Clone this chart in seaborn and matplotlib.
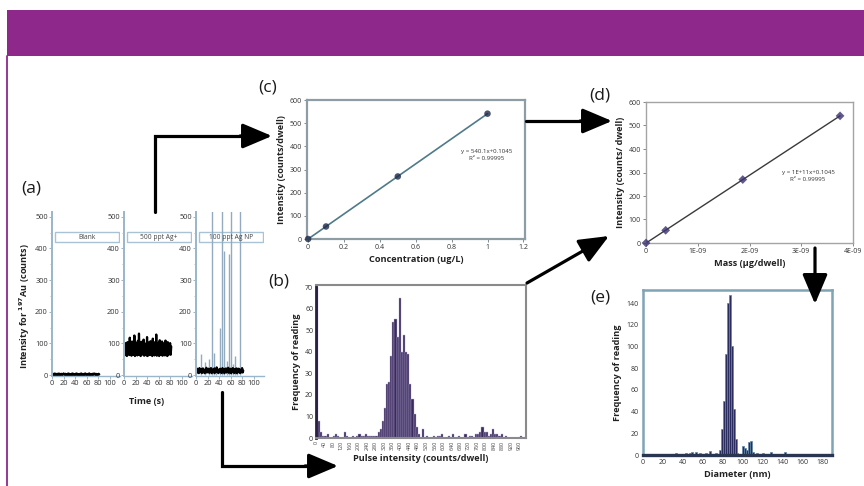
import numpy as np
import pandas as pd
import matplotlib
matplotlib.use("Agg")
import matplotlib.pyplot as plt
from matplotlib.patches import Rectangle
from matplotlib.lines import Line2D
from matplotlib.ticker import MultipleLocator
import seaborn as sns

# ---------------- data ----------------
# (a) raw time traces (counts)
trace_titles = ["Blank", "500 ppt Ag+", "100 ppt Ag NP"]
blank_counts = [3, 1, 4, 0, 2, 5, 1, 3, 0, 4, 2, 1, 5, 0, 3, 2, 4, 1, 0, 3, 5, 2, 1, 4, 0, 2, 3, 1, 5, 0,
                4, 2, 1, 3, 0, 5, 2, 4, 1, 0, 3, 2, 5, 1, 4, 0, 2, 3, 1, 4, 0, 5, 2, 1, 3, 0, 4, 2, 5, 1,
                3, 0, 2, 4, 1, 5, 0, 3, 2, 1, 4, 0, 3, 5, 2, 1, 4, 0, 2, 3, 1, 4, 2]
ag_ion_counts = [88, 62, 101, 66, 95, 60, 104, 70, 92, 63, 118, 65, 99, 61, 106, 68, 97, 64, 125, 60,
                 102, 67, 94, 62, 108, 66, 131, 63, 98, 60, 105, 69, 93, 64, 112, 61, 100, 66, 96, 62,
                 120, 60, 103, 68, 91, 63, 107, 65, 99, 60, 115, 67, 94, 62, 104, 64, 128, 61, 97, 66,
                 102, 60, 110, 68, 95, 63, 106, 61, 100, 65, 93, 62, 109, 66, 98, 60, 104, 63, 96, 67,
                 101, 64, 90]
ag_np_counts = [14, 7, 20, 9, 17, 6, 22, 10, 15, 8, 19, 7, 21, 11, 16, 6, 18, 9, 23, 8, 15, 10, 20, 7,
                17, 12, 22, 6, 14, 9, 19, 8, 21, 7, 16, 10, 24, 9, 15, 6, 18, 11, 20, 8, 17, 7, 22, 10,
                16, 6, 19, 9, 21, 8, 15, 11, 23, 7, 18, 9, 20, 6, 16, 10, 22, 8, 17, 7, 19, 9, 21, 6,
                15, 10, 20, 8, 18, 7, 16, 9, 22, 8, 14]
np_spike_time = [9, 15, 22, 28, 32, 35, 41, 45, 48, 53, 57, 60, 64, 67, 71, 76]
np_spike_height = [67, 40, 51, 520, 70, 30, 150, 520, 393, 45, 382, 520, 35, 60, 25, 520]
time_ticks = [0, 20, 40, 60, 80, 100]
count_ticks = [0, 100, 200, 300, 400, 500]

# (c) calibration vs concentration
conc_ugL = [0, 0.1, 0.5, 1.0]
conc_intensity = [0, 54, 270, 541]
conc_ticks = [0, 0.2, 0.4, 0.6, 0.8, 1.0, 1.2]
conc_ticklabels = ["0", "0.2", "0.4", "0.6", "0.8", "1", "1.2"]

# (d) calibration vs mass
mass_ug = [0, 3.8e-10, 1.87e-9, 3.75e-9]
mass_intensity = [0, 54, 270, 541]
mass_ticks = [0, 1e-9, 2e-9, 3e-9, 4e-9]
mass_ticklabels = ["0", "1E-09", "2E-09", "3E-09", "4E-09"]

# (b) pulse intensity histogram (bins of 10 counts/dwell)
pulse_bin_start = np.arange(0, 980, 10)
pulse_freq = [70, 8, 3, 1, 1, 2, 0, 0, 1, 2,
              1, 0, 0, 3, 1, 0, 0, 1, 0, 1,
              2, 1, 1, 2, 1, 1, 1, 1, 1, 3,
              4, 8, 14, 25, 26, 38, 54, 55, 47, 65,
              40, 48, 40, 39, 25, 18, 11, 5, 2, 0,
              4, 0, 1, 0, 0, 1, 0, 1, 1, 2,
              0, 0, 1, 0, 2, 0, 0, 1, 0, 0,
              2, 0, 1, 1, 0, 2, 2, 3, 5, 3,
              3, 1, 2, 4, 2, 2, 1, 2, 0, 1,
              0, 0, 0, 0, 0, 0, 1, 0]
pulse_ticks = list(range(0, 961, 40))

# (e) particle diameter histogram (bins of 2 nm)
diameter_bin = [32, 34, 40, 42, 46, 48, 52, 54, 56, 62, 66, 72, 74, 76, 78, 80, 82, 84, 86, 88, 90,
                92, 94, 100, 102, 104, 106, 108, 110, 114, 120, 122, 128, 134, 142, 152, 156]
diameter_freq = [2, 1, 1, 2, 2, 3, 3, 1, 2, 2, 4, 2, 1, 5, 24, 50, 93, 140, 147, 100, 42,
                 15, 2, 8, 6, 5, 12, 13, 3, 2, 2, 1, 3, 1, 3, 1, 1]

# ---------------- style ----------------
sns.set_theme(style="white")
plt.rcParams['font.family'] = ['Open Sans', 'DejaVu Sans']
plt.rcParams['mathtext.fontset'] = 'dejavusans'

W, H = 864, 486
fig = plt.figure(figsize=(W / 100, H / 100), dpi=100)
fig.patch.set_facecolor('white')


def add_px_axes(x0, y0, x1, y1, **kw):
    ax = fig.add_axes([x0 / W, 1 - y1 / H, (x1 - x0) / W, (y1 - y0) / H], **kw)
    ax.set_facecolor('none')
    return ax


def style_spines(ax, color, lw, hide=()):
    for k, s in ax.spines.items():
        if k in hide:
            s.set_visible(False)
        else:
            s.set_color(color)
            s.set_linewidth(lw)


LBL = dict(fontsize=6.6, fontweight='bold', color='#222222')
TICK = 5

# banner
fig.add_artist(Rectangle((7 / W, 1 - 56 / H), (W - 7) / W, 46 / H, transform=fig.transFigure,
                         facecolor='#8E298B', edgecolor='none'))
fig.add_artist(Line2D([7 / W, 7 / W], [0, 1 - 56 / H], transform=fig.transFigure,
                      color='#8E298B', lw=1.3))

# ---------------- (a) ----------------
a_left = [52, 124, 196]
a_series = [blank_counts, ag_ion_counts, ag_np_counts]
spine_a = '#9ab6ca'
for i, (x0, title, vals) in enumerate(zip(a_left, trace_titles, a_series)):
    ax = add_px_axes(x0, 212, x0 + 68, 376)
    t = np.linspace(0, 82, len(vals))
    if i == 2:
        ax.vlines(np_spike_time, 0, np_spike_height, color='#93abc0', lw=1.0, zorder=1)
    sns.lineplot(x=t, y=vals, ax=ax, color='black', lw=1.6, estimator=None, zorder=2)
    ax.set_xlim(0, 118)
    ax.set_ylim(-3, 515)
    ax.set_xticks(time_ticks)
    ax.set_yticks(count_ticks)
    ax.yaxis.set_minor_locator(MultipleLocator(50))
    ax.tick_params(axis='both', which='major', labelsize=5.3, length=2, width=0.7,
                   color=spine_a, pad=1, labelcolor='#333333')
    ax.tick_params(axis='y', which='minor', length=1.5, width=0.6, color=spine_a, left=True)
    ax.tick_params(axis='x', bottom=True)
    ax.tick_params(axis='y', left=True)
    style_spines(ax, spine_a, 1.4, hide=('top', 'right'))
    ax.spines['bottom'].set_linewidth(1.0)
    ax.set_xlabel('')
    ax.set_ylabel('')
    ax.add_patch(Rectangle((0.04, 0.815), 0.95, 0.062, transform=ax.transAxes,
                           facecolor='none', edgecolor='#a9c2d4', lw=1.0, zorder=0.5))
    ax.text(0.51, 0.846, title, transform=ax.transAxes, ha='center', va='center',
            fontsize=4.8, color='#444444', zorder=3)

fig.text(25 / W, 1 - 306 / H, r"Intensity for $^{\mathbf{197}}$Au (counts)", rotation=90,
         ha='center', va='center', **LBL)
fig.text(147 / W, 1 - 401 / H, "Time (s)", ha='center', va='center', **LBL)

# ---------------- (c) ----------------
axc = add_px_axes(307, 100, 525, 239)
sns.regplot(x=conc_ugL, y=conc_intensity, ax=axc, ci=None,
            scatter_kws=dict(s=22, color='#1d2947', edgecolor='none', zorder=3, clip_on=False),
            line_kws=dict(color='#4f7a8a', lw=1.2))
axc.set_xlim(-0.006, 1.209)
axc.set_ylim(0, 600)
axc.set_xticks(conc_ticks)
axc.set_xticklabels(conc_ticklabels)
axc.set_yticks([0, 100, 200, 300, 400, 500, 600])
axc.tick_params(labelsize=TICK, length=2, width=0.7, color='#7d8c94', pad=1.5,
                labelcolor='#333333', bottom=True, left=True)
style_spines(axc, '#8e9ca4', 1.6)
axc.set_xlabel("Concentration (ug/L)", labelpad=3, **LBL)
axc.set_ylabel("Intensity (counts/dwell)", labelpad=3, **LBL)
axc.text(0.826, 0.605, "y = 540.1x+0.1045\nR² = 0.99995", transform=axc.transAxes,
         ha='center', va='center', fontsize=4.4, color='#333333', linespacing=1.3)

# ---------------- (d) ----------------
axd = add_px_axes(646, 102, 853, 243)
sns.regplot(x=mass_ug, y=mass_intensity, ax=axd, ci=None, marker='D',
            scatter_kws=dict(s=20, color='#3b3070', edgecolor='none', zorder=3, clip_on=False),
            line_kws=dict(color='#3a3a3a', lw=1.0))
axd.set_xlim(0, 4e-9)
axd.set_ylim(0, 600)
axd.set_xticks(mass_ticks)
axd.set_xticklabels(mass_ticklabels)
axd.set_yticks([0, 100, 200, 300, 400, 500, 600])
axd.tick_params(labelsize=TICK, length=2, width=0.7, color='#888888', pad=1.5,
                labelcolor='#333333', bottom=True, left=True)
style_spines(axd, '#a4a4a4', 1.0)
axd.set_xlabel("Mass (µg/dwell)", labelpad=3, **LBL)
axd.set_ylabel("Intensity (counts/ dwell)", labelpad=3, **LBL)
axd.text(0.783, 0.475, "y = 1E+11x+0.1045\nR² = 0.99995", transform=axd.transAxes,
         ha='center', va='center', fontsize=4.4, color='#333333', linespacing=1.3)

# ---------------- (b) ----------------
pulse_df = pd.DataFrame({"pulse": pulse_bin_start + 5, "freq": pulse_freq})
axb = add_px_axes(316, 285, 526, 438)
sns.histplot(data=pulse_df, x="pulse", weights="freq", binwidth=10, binrange=(0, 980), ax=axb,
             color='#3b2a5e', edgecolor='#b9b0d2', linewidth=0.3, alpha=1)
axb.set_xlim(0, 990)
axb.set_ylim(0, 71)
axb.set_xticks(pulse_ticks)
axb.set_xticklabels([str(v) for v in pulse_ticks], rotation=90)
axb.set_yticks(range(0, 71, 10))
axb.tick_params(axis='x', labelsize=3.9, length=0, pad=2, labelcolor='#444444')
axb.tick_params(axis='y', labelsize=TICK, length=0, pad=2, labelcolor='#333333')
style_spines(axb, '#8a8a8a', 1.5)
axb.spines['left'].set_color('#2a2040')
axb.spines['left'].set_linewidth(2.0)
axb.set_xlabel("Pulse intensity (counts/dwell)", labelpad=3, **LBL)
axb.set_ylabel("Frequency of reading", labelpad=3, **LBL)

# ---------------- (e) ----------------
diam_df = pd.DataFrame({"diameter": np.array(diameter_bin) + 1, "freq": diameter_freq})
axe = add_px_axes(643, 290, 832, 455)
sns.histplot(data=diam_df, x="diameter", weights="freq", binwidth=2, binrange=(0, 192), ax=axe,
             color='#2b2d5e', edgecolor='#5f84a6', linewidth=0.5, alpha=1)
axe.set_xlim(0, 190)
axe.set_ylim(0, 152)
axe.set_xticks(range(0, 181, 20))
axe.set_yticks(range(0, 141, 20))
axe.tick_params(labelsize=TICK, length=0, pad=3, labelcolor='#333333')
style_spines(axe, '#7ea4b6', 1.8)
axe.spines['bottom'].set_color('#2a3552')
axe.spines['bottom'].set_linewidth(2.4)
axe.set_xlabel("Diameter (nm)", labelpad=3, **LBL)
axe.set_ylabel("Frequency of reading", labelpad=3, **LBL)

# ---------------- panel letters ----------------
for lab, (px, py) in {"(a)": (31, 188), "(c)": (268, 87), "(b)": (279, 281),
                      "(d)": (600, 95), "(e)": (600, 298)}.items():
    fig.text(px / W, 1 - py / H, lab, ha='center', va='center', fontsize=12.5, color='#1a1a1a')

# ---------------- connecting arrows ----------------
ov = fig.add_axes([0, 0, 1, 1], zorder=10)
ov.set_xlim(0, W)
ov.set_ylim(H, 0)
ov.axis('off')
ov.patch.set_alpha(0)
LW = 2.3
AP = dict(arrowstyle='-|>,head_length=1.3,head_width=0.55', color='black', lw=LW,
          shrinkA=0, shrinkB=0, mutation_scale=14)
# (a) -> (c)
ov.plot([155, 155, 250], [212, 136, 136], color='black', lw=LW, solid_joinstyle='miter')
ov.annotate('', xy=(272, 136), xytext=(240, 136), arrowprops=AP)
# (c) -> (d)
ov.plot([526, 595], [121, 121], color='black', lw=LW)
ov.annotate('', xy=(612, 121), xytext=(580, 121), arrowprops=AP)
# (b) -> (d)
ov.annotate('', xy=(609, 236), xytext=(527, 283), arrowprops=AP)
# (a) -> (b)
ov.plot([222, 222, 320], [392, 466, 466], color='black', lw=LW, solid_joinstyle='miter')
ov.annotate('', xy=(338, 466), xytext=(305, 466), arrowprops=AP)
# (d) -> (e)
ov.annotate('', xy=(815, 304), xytext=(815, 248), arrowprops=AP)

fig.savefig("out.png", dpi=100, facecolor='white')
